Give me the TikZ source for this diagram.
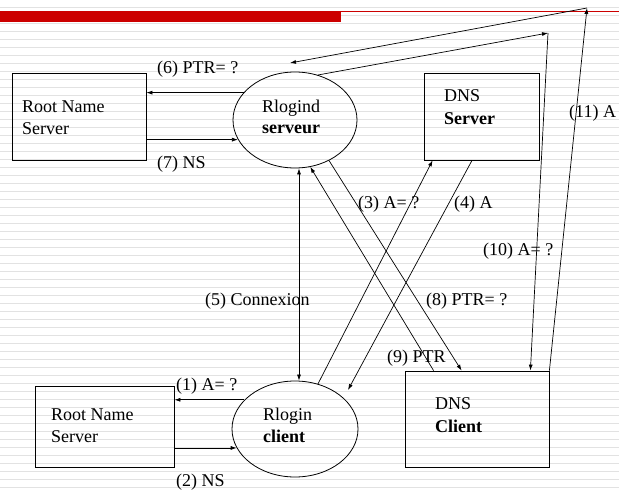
\documentclass[tikz,border=0pt]{standalone}
\usepackage{fontspec}
\setmainfont{Liberation Serif}
\usetikzlibrary{arrows.meta,shapes.geometric}
\definecolor{barred}{HTML}{CC0000}
\definecolor{stripegray}{HTML}{E2E2E2}
\begin{document}
\begin{tikzpicture}[x=1pt,y=-1pt,
  box/.style={draw,line width=0.8pt,inner sep=0pt},
  oval/.style={draw,ellipse,line width=0.8pt,inner sep=0pt,minimum width=124,minimum height=96},
  lbl/.style={anchor=base west,inner sep=0pt,font=\fontsize{18}{21}\selectfont},
  arr/.style={line width=0.7pt,-{Latex[length=6pt,width=4pt]}},
  darr/.style={line width=0.7pt,{Latex[length=6pt,width=4pt]}-{Latex[length=6pt,width=4pt]}},
  stripe/.style={line width=1.5pt,stripegray}]
\useasboundingbox (0,0) rectangle (619,492);
% lined background
\foreach \k in {0,...,60} {\draw[stripe] (0,7.3+8*\k) -- (619,7.3+8*\k);}
% title bar
\fill[barred] (0,11) rectangle (341,22);
\draw[barred,line width=0.8pt] (341,11) -- (619,11);

% nodes
\node[box,minimum width=134,minimum height=87] (rns1) at (79,116.5) {};
\node[box,minimum width=139,minimum height=81] (rns2) at (104.5,426.5) {};
\node[box,minimum width=115,minimum height=87] (dnss) at (481.5,116.5) {};
\node[box,minimum width=144,minimum height=96] (dnsc) at (477,419) {};
\node[oval] (srv) at (295,120) {};
\node[oval,minimum width=126] (cli) at (295,429) {};

% texts in shapes
\node[lbl] (t1a) at (22,113) {Root Name};
\node[lbl] (t1b) at (22,135) {Server};
\node[lbl] (t2a) at (51,420) {Root Name};
\node[lbl] (t2b) at (51,442) {Server};
\node[lbl] (t3a) at (262,112.5) {Rlogind};
\node[lbl] (t3b) at (262,134) {\bfseries serveur};
\node[lbl] (t4a) at (263,420) {Rlogin};
\node[lbl] (t4b) at (263,442) {\bfseries client};
\node[lbl] (t5a) at (444,101.5) {DNS};
\node[lbl] (t5b) at (444,125) {\bfseries Server};
\node[lbl] (t6a) at (435,409) {DNS};
\node[lbl] (t6b) at (435,432) {\bfseries Client};

% free-end coordinates
\coordinate (c4) at (348,390);
\coordinate (c10) at (548,33);
\coordinate (apex) at (587,8);
\coordinate (c11) at (290,63);

% connectors
\draw[arr] (srv.152) -- (srv.152 -| rns1.east);
\draw[arr] (rns1.east |- srv.199.5) -- (srv.199.5);
\draw[arr] (cli.150) -- (cli.150 -| rns2.east);
\draw[arr] (rns2.east |- cli.198) -- (cli.198);
\draw[darr] ([xshift=4]srv.south) -- ([xshift=4]cli.north);
\draw[arr] (cli.63) -- ([xshift=9]dnss.south west);
\draw[arr] ([xshift=-9.5]dnss.south) -- (c4);
\draw[arr] (srv.-50) -- ([xshift=57]dnsc.north west);
\draw[arr] ([xshift=29]dnsc.north west) -- (srv.-72);
\draw[arr] (srv.63) -- (c10);
\draw[arr] (c10) -- ([xshift=-19]dnsc.north east);
\draw[arr] (dnsc.north east) -- (apex);
\draw[arr] (apex) -- (c11);

% labels
\node[lbl] (l6) at (157,74) {(6) PTR= ?};
\node[lbl] (l7) at (157,169) {(7) NS};
\node[lbl] (l1) at (176,390.5) {(1) A= ?};
\node[lbl] (l2) at (176,486.5) {(2) NS};
\node[lbl] (l3) at (358,209) {(3) A= ?};
\node[lbl] (l4) at (454,209) {(4) A};
\node[lbl] (l5) at (205,305.5) {(5) Connexion};
\node[lbl] (l8) at (426,305) {(8) PTR= ?};
\node[lbl] (l9) at (387,362) {(9) PTR};
\node[lbl] (l10) at (483,255) {(10) A= ?};
\node[lbl] (l11) at (569,118) {(11) A};
\end{tikzpicture}
\end{document}
